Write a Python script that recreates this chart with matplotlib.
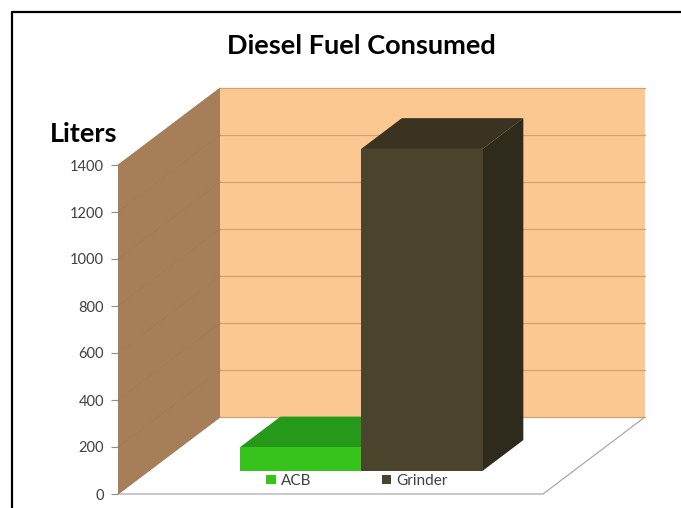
import matplotlib
matplotlib.use("Agg")
import matplotlib.pyplot as plt
from matplotlib.patches import Polygon, Patch
from matplotlib.lines import Line2D

plt.rcParams['font.family'] = ['Lato', 'DejaVu Sans']

# data
series = ["ACB", "Grinder"]
liters = [100, 1370]
yticks = [0, 200, 400, 600, 800, 1000, 1200, 1400]

# colours: front / top / side faces of each series
front_colors = ["#36C31C", "#4B442D"]
top_colors = ["#26991A", "#3A3322"]
side_colors = ["#1F7D14", "#2E2B1C"]

ymax = 1400
DX = 102 / 425          # depth shift, x units
DY = ymax * 77 / 329    # depth shift, value units


def proj(x, y, z):
    # oblique projection: z = 0 front plane, z = 1 back wall
    return (x + z * DX, y + z * DY)


fig = plt.figure(figsize=(6.81, 5.08), dpi=100)
ax = fig.add_axes([118 / 681, 14 / 508, 425 / 681, 329 / 508])
ax.set_xlim(0, 1)
ax.set_ylim(0, ymax)


def face(pts, color, z, ec='none', lw=0):
    ax.add_patch(Polygon([proj(*p) for p in pts], closed=True, facecolor=color,
                         edgecolor=ec, lw=lw, clip_on=False, zorder=z))


# floor and walls
face([(0, 0, 0), (1, 0, 0), (1, 0, 1), (0, 0, 1)], 'white', 1, ec='#a0a0a0', lw=0.8)
face([(0, 0, 0), (0, ymax, 0), (0, ymax, 1), (0, 0, 1)], '#A67E58', 2)
face([(0, 0, 1), (1, 0, 1), (1, ymax, 1), (0, ymax, 1)], '#FCC892', 2)

for t in yticks:
    (xa, ya), (xb, yb) = proj(0, t, 1), proj(1, t, 1)
    ax.plot([xa, xb], [ya, yb], color='#D3A273', lw=0.9, zorder=3, clip_on=False)
    (xa, ya), (xb, yb) = proj(0, t, 0), proj(0, t, 1)
    ax.plot([xa, xb], [ya, yb], color='#A27A55', lw=0.5, zorder=3, clip_on=False)

# bars (gap width 150%, gap depth 150%)
w = 1 / 3.5
gap = 0.75 * w
z0, z1 = 0.3, 0.7
for i, v in enumerate(liters):
    x0 = gap + i * w
    x1 = x0 + w
    face([(x1, 0, z0), (x1, 0, z1), (x1, v, z1), (x1, v, z0)], side_colors[i], 4 + i)
    face([(x0, v, z0), (x1, v, z0), (x1, v, z1), (x0, v, z1)], top_colors[i], 4 + i)
    face([(x0, 0, z0), (x1, 0, z0), (x1, v, z0), (x0, v, z0)], front_colors[i], 4 + i)

ax.set_xticks([])
ax.set_yticks(yticks)
ax.tick_params(axis='y', length=5, color='#8c8c8c', labelsize=10.5, labelcolor='#404040', pad=5)
for s in ax.spines.values():
    s.set_visible(False)
ax.patch.set_visible(False)

handles = [Patch(facecolor=c) for c in front_colors]
fig.legend(handles, series, loc='center', bbox_to_anchor=(357 / 681, 1 - 481 / 508),
           ncol=2, frameon=False, fontsize=11, handlelength=0.6, handleheight=0.6,
           handletextpad=0.35, columnspacing=4.6, labelcolor='#404040')

fig.text(361 / 681, 1 - 46 / 508, "Diesel Fuel Consumed", ha='center', va='center',
         fontsize=19.5, fontweight='bold')
fig.text(84 / 681, 1 - 134 / 508, "Liters", ha='center', va='center',
         fontsize=19.5, fontweight='bold')

# outer frame (top and left only)
fig.add_artist(Line2D([12 / 681, 12 / 681, 1], [0, 1 - 12 / 508, 1 - 12 / 508],
                      color='black', lw=1.6, transform=fig.transFigure))

fig.savefig("out.png", dpi=100)
